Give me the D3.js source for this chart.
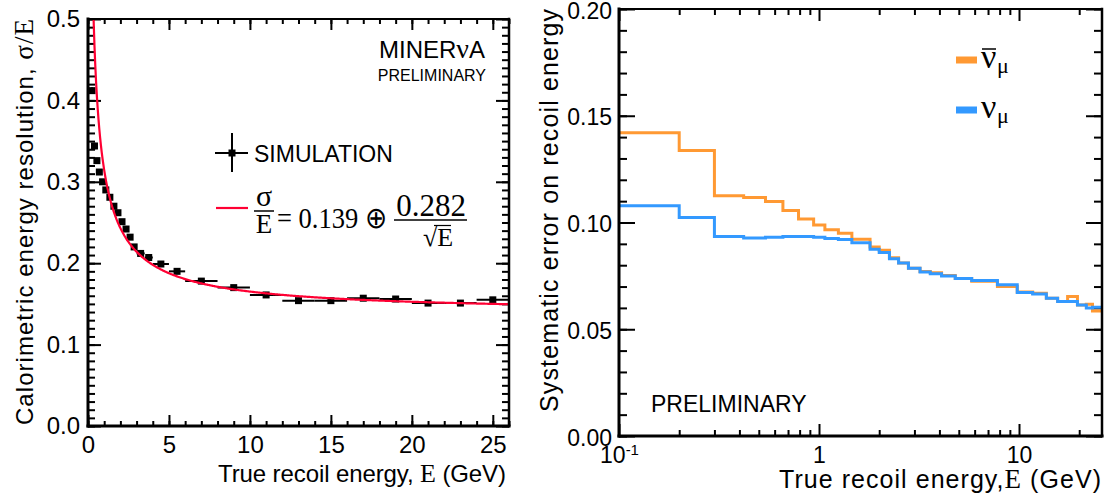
<!DOCTYPE html>
<html>
<head>
<meta charset="utf-8">
<script src="https://cdn.jsdelivr.net/npm/d3@7"></script>
<style>
body { margin: 0; background: #fff; }
text { font-family: "Liberation Sans", Arial, sans-serif; fill: #000; }
.serif { font-family: "Liberation Serif", "Times New Roman", serif; }
</style>
</head>
<body>
<svg id="chart" width="1110" height="501"></svg>
<script>
// ---- left panel: calorimetric resolution (simulation points + fit) ----
var simE      = [0.25, 0.4, 0.55, 0.7, 0.9, 1.1, 1.35, 1.6, 1.85, 2.1, 2.35, 2.6, 2.85, 3.25, 3.75, 4.5, 5.5, 7, 9, 11, 13, 15, 17, 19, 21, 23, 25];
var simRes    = [0.412, 0.344, 0.326, 0.312, 0.300, 0.290, 0.281, 0.270, 0.262, 0.251, 0.242, 0.232, 0.220, 0.212, 0.207, 0.199, 0.190, 0.178, 0.170, 0.161, 0.154, 0.154, 0.157, 0.156, 0.151, 0.151, 0.155];
var simHalfW  = [0.1, 0.08, 0.08, 0.08, 0.1, 0.1, 0.12, 0.12, 0.12, 0.12, 0.12, 0.12, 0.12, 0.25, 0.25, 0.5, 0.5, 1, 1, 1, 1, 1, 1, 1, 1, 1, 1];
var simErr    = [0.004, 0.004, 0.003, 0.003, 0.003, 0.003, 0.002, 0.002, 0.002, 0.002, 0.002, 0.002, 0.002, 0.002, 0.002, 0.002, 0.002, 0.002, 0.002, 0.002, 0.002, 0.002, 0.002, 0.002, 0.002, 0.002, 0.002];
var fitConst  = 0.139;
var fitStoch  = 0.282;
var leftXTicks = [0, 5, 10, 15, 20, 25];
var leftYTicks = [0, 0.1, 0.2, 0.3, 0.4, 0.5];

// ---- right panel: systematic error on recoil energy ----
var binEdges = [0.1, 0.2, 0.3, 0.42, 0.54, 0.66, 0.79, 0.94, 1.07, 1.25, 1.46, 1.8, 2.0, 2.25, 2.5, 2.8, 3.2, 3.6, 4.1, 4.8, 5.8, 7.8, 9.8, 11.7, 13.7, 15.6, 17.5, 19.6, 21.7, 23.3, 26];
var sysNuBar = [0.142, 0.1337, 0.1125, 0.1117, 0.1098, 0.1056, 0.1016, 0.0988, 0.0966, 0.095, 0.0922, 0.0885, 0.087, 0.0835, 0.081, 0.0786, 0.077, 0.0765, 0.0752, 0.0738, 0.0725, 0.070, 0.0674, 0.0669, 0.0645, 0.063, 0.0653, 0.0614, 0.0617, 0.0586];
var sysNu    = [0.1078, 0.1023, 0.0934, 0.0927, 0.0931, 0.0934, 0.0934, 0.0931, 0.0925, 0.092, 0.0905, 0.0875, 0.086, 0.083, 0.081, 0.0786, 0.0768, 0.076, 0.075, 0.0738, 0.0728, 0.0708, 0.0672, 0.0665, 0.0645, 0.063, 0.063, 0.0614, 0.0599, 0.0603];
var rightXTicks = [0.1, 1, 10];
var rightYTicks = [0, 0.05, 0.1, 0.15, 0.2];

var orange = "#ff9933", blue = "#3399ff", fitRed = "#ff0033";

var svg = d3.select("#chart");

var xL = d3.scaleLinear().domain([0, 26]).range([88, 509]);
var yL = d3.scaleLinear().domain([0, 0.5]).range([426, 19]);
var xR = d3.scaleLog().domain([0.1, 26]).range([619, 1102]);
var yR = d3.scaleLinear().domain([0, 0.2]).range([436, 9]);

function styleAxis(g, size) {
	g.select(".domain").remove();
	g.selectAll("line").attr("stroke", "#000").attr("stroke-width", 2);
	g.attr("font-size", size).attr("font-family", "Liberation Sans, Arial, sans-serif");
	g.selectAll("text").attr("fill", "#000");
}

/* ------- LEFT AXES ------- */
svg.append("g").attr("transform", "translate(0,426)")
	.call(d3.axisBottom(xL).tickValues(d3.range(0, 27, 1)).tickSize(-5).tickFormat(""))
	.call(styleAxis, 24);
svg.append("g").attr("transform", "translate(0,426)")
	.call(d3.axisBottom(xL).tickValues(leftXTicks).tickSize(-11).tickPadding(10).tickFormat(d3.format("d")))
	.call(styleAxis, 24);
svg.append("g").attr("transform", "translate(0,19)")
	.call(d3.axisTop(xL).tickValues(d3.range(0, 27, 1)).tickSize(-5).tickFormat(""))
	.call(styleAxis, 24);
svg.append("g").attr("transform", "translate(0,19)")
	.call(d3.axisTop(xL).tickValues(leftXTicks).tickSize(-11).tickFormat(""))
	.call(styleAxis, 24);
svg.append("g").attr("transform", "translate(88,0)")
	.call(d3.axisLeft(yL).tickValues(d3.range(0, 0.5001, 0.01)).tickSize(-7).tickFormat(""))
	.call(styleAxis, 24);
svg.append("g").attr("transform", "translate(88,0)")
	.call(d3.axisLeft(yL).tickValues(leftYTicks).tickSize(-13).tickPadding(8).tickFormat(d3.format(".1f")))
	.call(styleAxis, 24);
svg.append("g").attr("transform", "translate(509,0)")
	.call(d3.axisRight(yL).tickValues(d3.range(0, 0.5001, 0.01)).tickSize(-7).tickFormat(""))
	.call(styleAxis, 24);
svg.append("g").attr("transform", "translate(509,0)")
	.call(d3.axisRight(yL).tickValues(leftYTicks).tickSize(-13).tickFormat(""))
	.call(styleAxis, 24);

/* ------- RIGHT AXES ------- */
var logMinor = [0.2,0.3,0.4,0.5,0.6,0.7,0.8,0.9,2,3,4,5,6,7,8,9,20];
svg.append("g").attr("transform", "translate(0,436)")
	.call(d3.axisBottom(xR).tickValues(logMinor).tickSize(-6).tickFormat(""))
	.call(styleAxis, 24);
var rb = svg.append("g").attr("transform", "translate(0,436)")
	.call(d3.axisBottom(xR).tickValues(rightXTicks).tickSize(-12).tickPadding(11).tickFormat(function(d) { return d < 1 ? "" : d3.format("d")(d); }))
	.call(styleAxis, 23);
rb.selectAll(".tick text").filter(function(d) { return d < 1; })
	.each(function() {
		var t = d3.select(this);
		t.append("tspan").text("10");
		t.append("tspan").attr("font-size", 15).attr("dy", "-0.55em").text("-1");
	});
svg.append("g").attr("transform", "translate(0,9)")
	.call(d3.axisTop(xR).tickValues(logMinor).tickSize(-6).tickFormat(""))
	.call(styleAxis, 24);
svg.append("g").attr("transform", "translate(0,9)")
	.call(d3.axisTop(xR).tickValues(rightXTicks).tickSize(-12).tickFormat(""))
	.call(styleAxis, 24);
svg.append("g").attr("transform", "translate(619,0)")
	.call(d3.axisLeft(yR).tickValues(d3.range(0, 0.2001, 0.01)).tickSize(-8).tickFormat(""))
	.call(styleAxis, 24);
var rl = svg.append("g").attr("transform", "translate(619,0)")
	.call(d3.axisLeft(yR).tickValues(rightYTicks).tickSize(-16).tickPadding(7).tickFormat(d3.format(".2f")))
	.call(styleAxis, 23);
rl.selectAll(".tick text").attr("dy", "0.4em");
svg.append("g").attr("transform", "translate(1102,0)")
	.call(d3.axisRight(yR).tickValues(d3.range(0, 0.2001, 0.01)).tickSize(-8).tickFormat(""))
	.call(styleAxis, 24);
svg.append("g").attr("transform", "translate(1102,0)")
	.call(d3.axisRight(yR).tickValues(rightYTicks).tickSize(-16).tickFormat(""))
	.call(styleAxis, 24);

/* ------- FRAMES ------- */
function frame(x0, x1, y0, y1) {
	var f = svg.append("g").attr("stroke", "#000").attr("stroke-linecap", "square");
	f.append("line").attr("x1", x0).attr("x2", x1).attr("y1", y0).attr("y2", y0).attr("stroke-width", 2);
	f.append("line").attr("x1", x1).attr("x2", x1).attr("y1", y0).attr("y2", y1).attr("stroke-width", 2.5);
	f.append("line").attr("x1", x0).attr("x2", x0).attr("y1", y0).attr("y2", y1).attr("stroke-width", 3);
	f.append("line").attr("x1", x0).attr("x2", x1).attr("y1", y1).attr("y2", y1).attr("stroke-width", 3);
}

/* ------- LEFT DATA ------- */
svg.append("clipPath").attr("id", "clipL").append("rect")
	.attr("x", 88).attr("y", 19).attr("width", 421).attr("height", 407);

var pts = simE.map(function(e, i) { return { e: e, v: simRes[i], hw: simHalfW[i], err: simErr[i] }; });
var pg = svg.append("g").attr("stroke", "#000").attr("stroke-width", 2);
pg.selectAll("line.hbar").data(pts).enter().append("line")
	.attr("class", "hbar")
	.attr("x1", function(d) { return xL(d.e - d.hw); })
	.attr("x2", function(d) { return xL(d.e + d.hw); })
	.attr("y1", function(d) { return yL(d.v); })
	.attr("y2", function(d) { return yL(d.v); });
pg.selectAll("line.vbar").data(pts).enter().append("line")
	.attr("class", "vbar")
	.attr("x1", function(d) { return xL(d.e); })
	.attr("x2", function(d) { return xL(d.e); })
	.attr("y1", function(d) { return yL(d.v - d.err); })
	.attr("y2", function(d) { return yL(d.v + d.err); });
svg.append("g").selectAll("rect").data(pts).enter().append("rect")
	.attr("x", function(d) { return xL(d.e) - 3.5; })
	.attr("y", function(d) { return yL(d.v) - 3.5; })
	.attr("width", 7).attr("height", 7)
	.attr("fill", "#000");

var fitE = d3.range(0.3, 26.001, 0.05);
var fitLine = d3.line()
	.x(function(e) { return xL(e); })
	.y(function(e) { return yL(Math.sqrt(fitConst * fitConst + fitStoch * fitStoch / e)); });
svg.append("path").datum(fitE)
	.attr("clip-path", "url(#clipL)")
	.attr("d", fitLine)
	.attr("fill", "none")
	.attr("stroke", fitRed)
	.attr("stroke-width", 2.2);

frame(88, 509, 19, 426);

/* ------- RIGHT DATA ------- */
function stepPoints(vals) {
	var p = vals.map(function(v, i) { return [binEdges[i], v]; });
	p.push([binEdges[binEdges.length - 1], vals[vals.length - 1]]);
	return p;
}
var step = d3.line()
	.x(function(d) { return xR(d[0]); })
	.y(function(d) { return yR(d[1]); })
	.curve(d3.curveStepAfter);
svg.append("path").attr("d", step(stepPoints(sysNuBar)))
	.attr("fill", "none").attr("stroke", orange).attr("stroke-width", 3);
svg.append("path").attr("d", step(stepPoints(sysNu)))
	.attr("fill", "none").attr("stroke", blue).attr("stroke-width", 3);

frame(619, 1102, 9, 436);

/* ------- LEFT TEXT ------- */
var mt = svg.append("text").attr("x", 485).attr("y", 58).attr("text-anchor", "end").attr("font-size", 24);
mt.append("tspan").text("MINER");
mt.append("tspan").attr("class", "serif").attr("font-size", 28).text("ν");
mt.append("tspan").text("A");
svg.append("text").attr("x", 486).attr("y", 81).attr("text-anchor", "end").attr("font-size", 16).text("PRELIMINARY");

// legend: simulation marker
var lg = svg.append("g").attr("stroke", "#000").attr("stroke-width", 2);
lg.append("line").attr("x1", 215).attr("x2", 248).attr("y1", 153).attr("y2", 153);
lg.append("line").attr("x1", 232).attr("x2", 232).attr("y1", 133).attr("y2", 172);
svg.append("rect").attr("x", 228.5).attr("y", 149.5).attr("width", 7).attr("height", 7).attr("fill", "#000");
svg.append("text").attr("x", 254).attr("y", 162).attr("font-size", 23).text("SIMULATION");

// legend: fit
svg.append("line").attr("x1", 216).attr("x2", 248).attr("y1", 208).attr("y2", 208)
	.attr("stroke", fitRed).attr("stroke-width", 2.2);
svg.append("text").attr("class", "serif").attr("x", 264).attr("y", 206).attr("text-anchor", "middle").attr("font-size", 30).text("σ");
svg.append("line").attr("x1", 254).attr("x2", 274).attr("y1", 211).attr("y2", 211).attr("stroke", "#000").attr("stroke-width", 1.5);
svg.append("text").attr("class", "serif").attr("x", 264).attr("y", 233).attr("text-anchor", "middle").attr("font-size", 27).text("E");
svg.append("text").attr("class", "serif").attr("x", 277).attr("y", 228).attr("font-size", 30)
	.attr("textLength", 110).attr("lengthAdjust", "spacingAndGlyphs").text("= 0.139 ⊕");
svg.append("text").attr("class", "serif").attr("x", 431).attr("y", 216).attr("text-anchor", "middle").attr("font-size", 31).text("0.282");
svg.append("line").attr("x1", 394).attr("x2", 467).attr("y1", 220).attr("y2", 220).attr("stroke", "#000").attr("stroke-width", 1.5);
svg.append("text").attr("class", "serif").attr("x", 438).attr("y", 246).attr("text-anchor", "middle").attr("font-size", 26).text("√E");
svg.append("line").attr("x1", 434).attr("x2", 451).attr("y1", 225.5).attr("y2", 225.5).attr("stroke", "#000").attr("stroke-width", 1.2);

svg.append("text").attr("x", 506).attr("y", 482).attr("text-anchor", "end").attr("font-size", 24)
	.attr("textLength", 288).attr("lengthAdjust", "spacing")
	.call(function(t) {
		t.append("tspan").text("True recoil energy,  ");
		t.append("tspan").attr("class", "serif").attr("font-size", 26).text("E");
		t.append("tspan").text(" (GeV)");
	});
svg.append("text").attr("transform", "translate(33,19) rotate(-90)").attr("text-anchor", "end").attr("font-size", 24)
	.attr("textLength", 406).attr("lengthAdjust", "spacing")
	.call(function(t) {
		t.append("tspan").text("Calorimetric energy resolution,  ");
		t.append("tspan").attr("class", "serif").attr("font-size", 27).text("σ/E");
	});

/* ------- RIGHT TEXT ------- */
svg.append("text").attr("x", 651).attr("y", 412).attr("font-size", 23).text("PRELIMINARY");
svg.append("text").attr("x", 1101).attr("y", 488).attr("text-anchor", "end").attr("font-size", 25)
	.attr("textLength", 322).attr("lengthAdjust", "spacing")
	.call(function(t) {
		t.append("tspan").text("True recoil energy,");
		t.append("tspan").attr("class", "serif").attr("font-size", 27).text("E");
		t.append("tspan").text(" (GeV)");
	});
svg.append("text").attr("transform", "translate(558,9) rotate(-90)").attr("text-anchor", "end").attr("font-size", 25)
	.attr("textLength", 403).attr("lengthAdjust", "spacing")
	.text("Systematic error on recoil energy");

var legendItems = [{ color: orange, bar: true, y: 60 }, { color: blue, bar: false, y: 110 }];
legendItems.forEach(function(d) {
	svg.append("rect").attr("x", 956).attr("y", d.y - 3.5).attr("width", 21).attr("height", 7).attr("fill", d.color);
	svg.append("text").attr("class", "serif").attr("x", 981).attr("y", d.y + 8).attr("font-size", 34).text("ν");
	svg.append("text").attr("class", "serif").attr("x", 997).attr("y", d.y + 13).attr("font-size", 22).text("μ");
	if (d.bar) {
		svg.append("line").attr("x1", 982).attr("x2", 996).attr("y1", d.y - 11).attr("y2", d.y - 11)
			.attr("stroke", "#000").attr("stroke-width", 1.5);
	}
});
</script>
</body>
</html>
